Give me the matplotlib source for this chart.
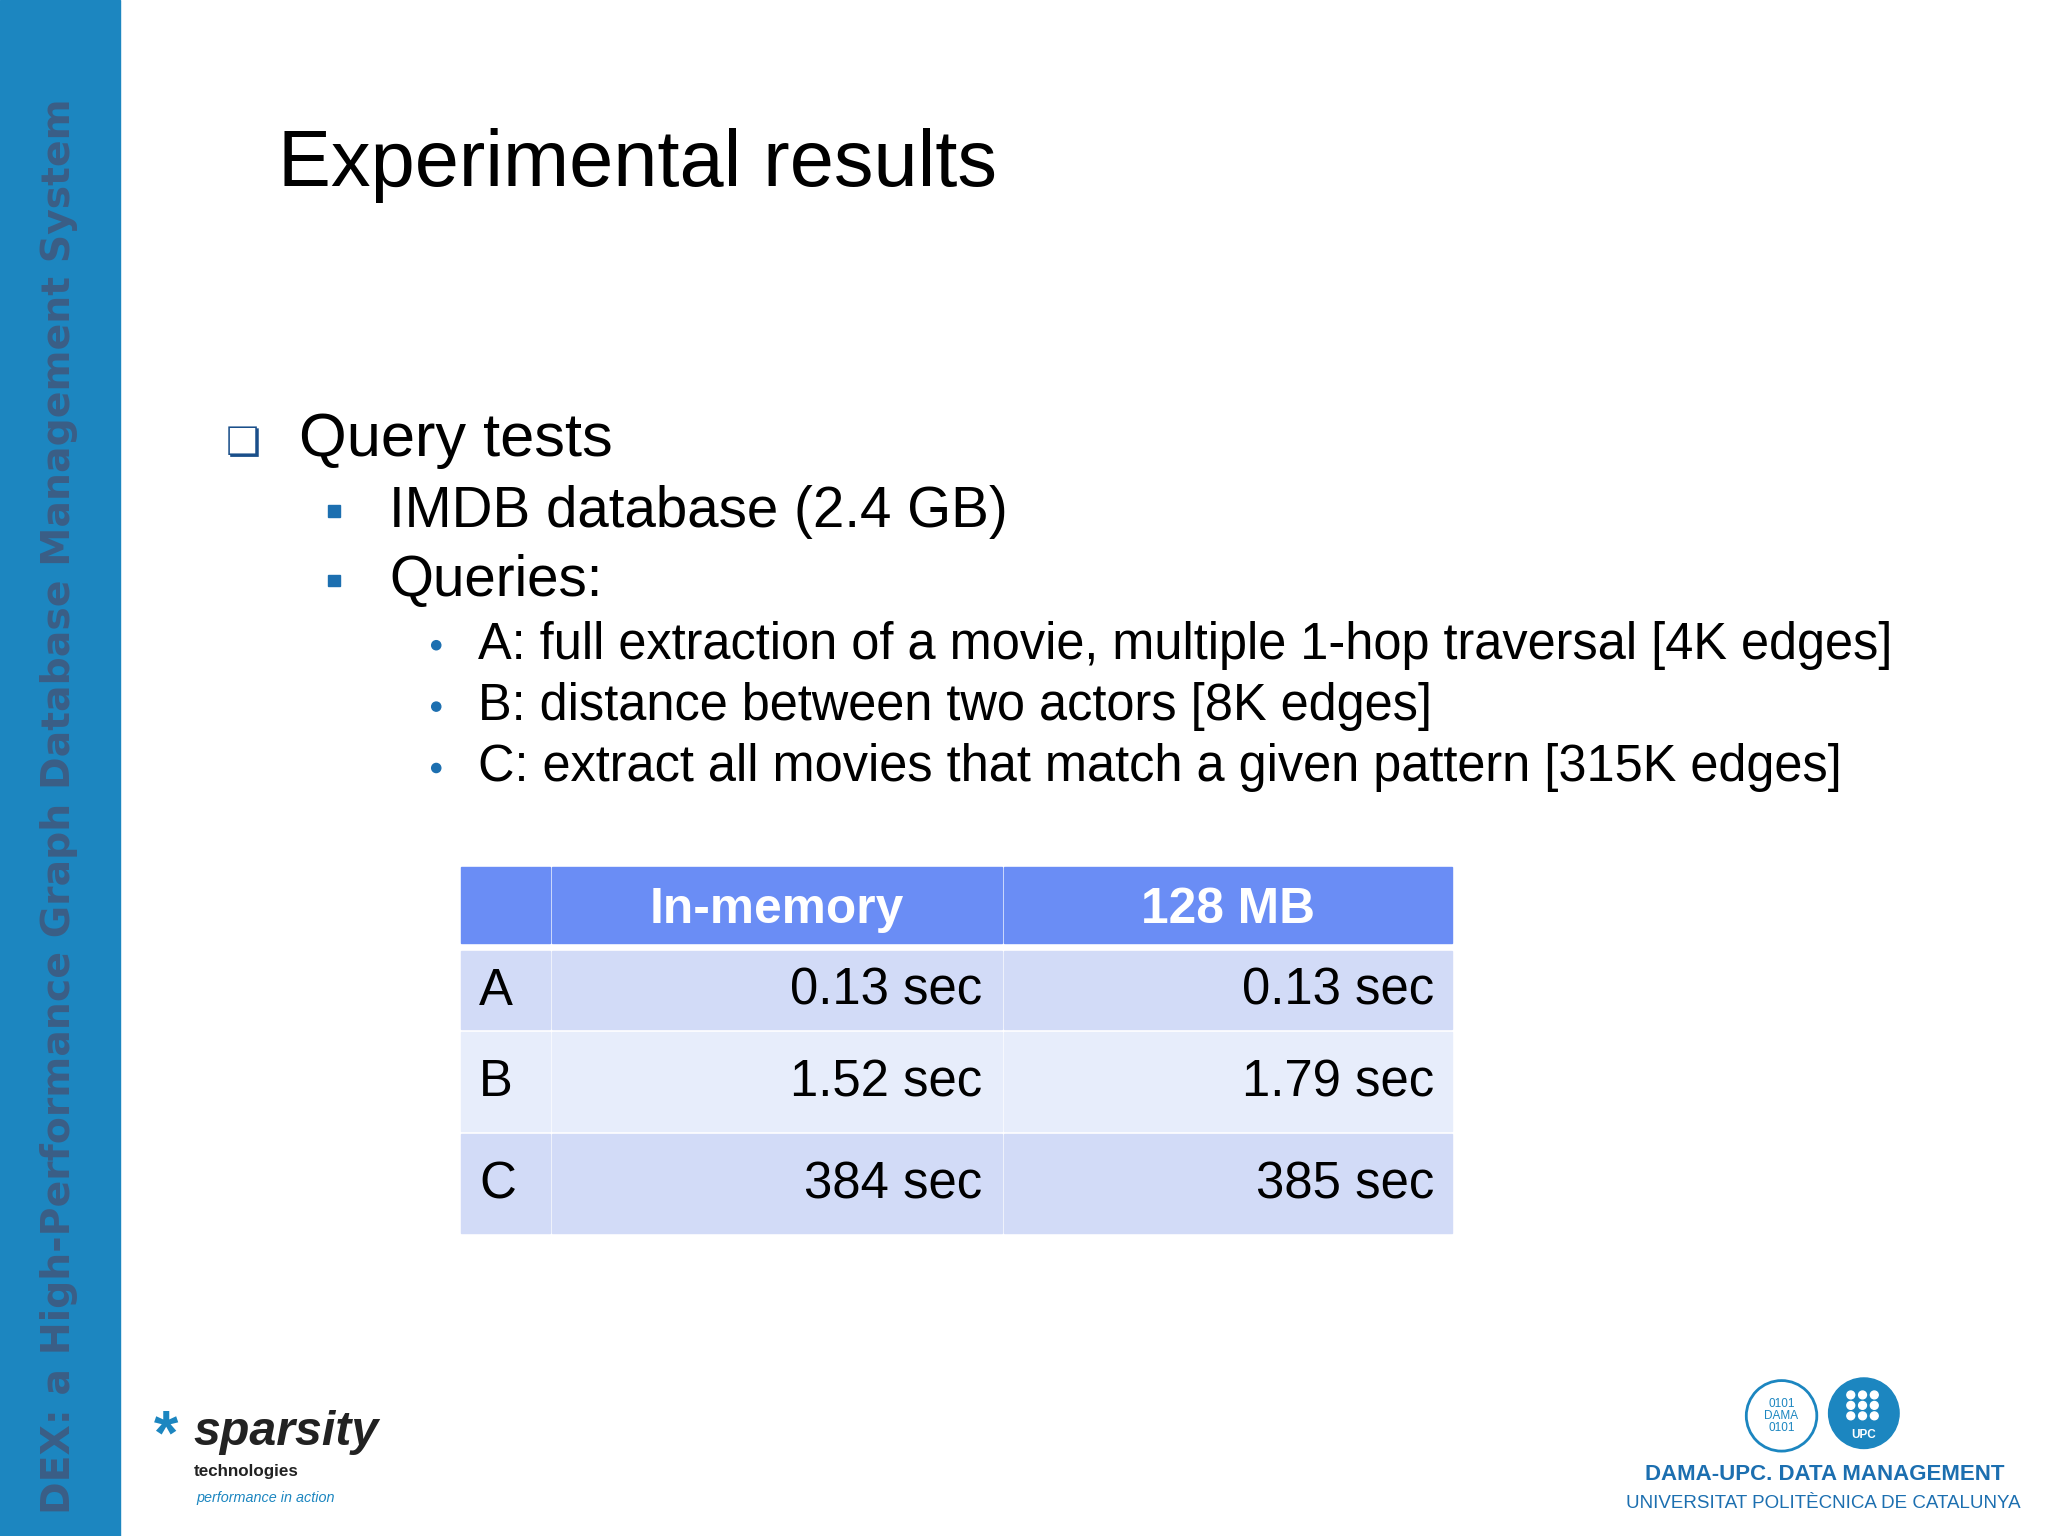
import matplotlib
matplotlib.use("Agg")
import matplotlib.pyplot as plt
from matplotlib.patches import Rectangle, Circle

plt.rcParams['font.family'] = ['Liberation Sans', 'DejaVu Sans']

title = "Experimental results"
side_text = "DEX: a High-Performance Graph Database Management System"
level1 = ["Query tests"]
level2 = ["IMDB database (2.4 GB)", "Queries:"]
level3 = ["A: full extraction of a movie, multiple 1-hop traversal [4K edges]",
          "B: distance between two actors [8K edges]",
          "C: extract all movies that match a given pattern [315K edges]"]
col_headers = ["", "In-memory", "128 MB"]
row_labels = ["A", "B", "C"]
in_memory = ["0.13 sec", "1.52 sec", "384 sec"]
mb128 = ["0.13 sec", "1.79 sec", "385 sec"]

W, H = 1568, 1176
fig = plt.figure(figsize=(20.48, 15.36), dpi=100)
ax = fig.add_axes([0, 0, 1, 1])
ax.set_xlim(0, W); ax.set_ylim(H, 0); ax.axis('off')
s = 1536 / 1176 / 100 * 72  # display px -> pt

# side bar
ax.add_patch(Rectangle((0, 0), 92, H, color='#1C86C0'))
ax.text(45, 617, side_text, rotation=90, ha='center', va='center', color='#3B5E86',
        fontsize=30.2 * s, fontweight='bold', family=['DejaVu Sans'])

ax.text(213, 127, title, ha='left', va='center', fontsize=60.8 * s, color='black')

# bullets
ax.text(186, 340, "\u274f", ha='center', va='center', fontsize=30 * s, color='#1a4f8a', family=['DejaVu Sans'])
ax.text(229, 337, level1[0], ha='left', va='center', fontsize=47 * s)
for i, t in enumerate(level2):
    y = 392 + i * 53
    ax.add_patch(Rectangle((251, y - 5), 9, 9, color='#1C6FB0'))
    ax.text(298, y, t, ha='left', va='center', fontsize=43.3 * s)
for i, t in enumerate(level3):
    y = 494 + i * 47
    ax.add_patch(Circle((334, y), 3.5, color='#1C6FB0'))
    ax.text(366, y, t, ha='left', va='center', fontsize=38.7 * s)

# table
xs = [(353, 421), (423, 767), (769, 1112)]
ys = [(664, 722), (728, 788), (790, 866), (868, 944)]
fills = ['#6A8DF5', '#D2DBF7', '#E7EDFB', '#D2DBF7']
for r, (y0, y1) in enumerate(ys):
    for c, (x0, x1) in enumerate(xs):
        ax.add_patch(Rectangle((x0, y0), x1 - x0, y1 - y0, color=fills[r]))
for c, (x0, x1) in enumerate(xs):
    ax.text((x0 + x1) / 2, 697, col_headers[c], ha='center', va='center', color='white',
            fontsize=38 * s, fontweight='bold')
for r in range(3):
    y0, y1 = ys[r + 1]
    yc = (y0 + y1) / 2 + 1
    ax.text(367, yc, row_labels[r], ha='left', va='center', fontsize=39 * s)
    ax.text(752, yc, in_memory[r], ha='right', va='center', fontsize=39 * s)
    ax.text(1098, yc, mb128[r], ha='right', va='center', fontsize=39 * s)

# sparsity logo
ax.text(118, 1100, "*", ha='left', va='center', fontsize=48 * s, color='#1C86C0', fontweight='bold')
ax.text(148, 1097, "sparsity", ha='left', va='center', fontsize=37 * s, fontweight='bold',
        style='italic', color='#222222')
ax.text(148, 1127, "technologies", ha='left', va='center', fontsize=13 * s, fontweight='bold', color='#222222')
ax.text(150, 1147, "performance in action", ha='left', va='center', fontsize=11 * s, style='italic', color='#1C86C0')

# DAMA-UPC logo
ax.add_patch(Circle((1364, 1084), 27, facecolor='white', edgecolor='#1C86C0', lw=2))
ax.text(1364, 1084, "0101\nDAMA\n0101", ha='center', va='center', fontsize=9 * s, color='#1C86C0', linespacing=1.0)
ax.add_patch(Circle((1427, 1082), 27, color='#1C86C0'))
for i in range(3):
    for j in range(3):
        ax.add_patch(Circle((1417 + j * 9, 1068 + i * 8), 3, color='white'))
ax.text(1427, 1099, "UPC", ha='center', va='center', fontsize=9 * s, color='white', fontweight='bold')
ax.text(1397, 1129, "DAMA-UPC. DATA MANAGEMENT", ha='center', va='center', fontsize=17 * s,
        fontweight='bold', color='#1C6FB0')
ax.text(1396, 1151, "UNIVERSITAT POLITÈCNICA DE CATALUNYA", ha='center', va='center', fontsize=14.4 * s,
        color='#1C6FB0')

fig.savefig("out.png", dpi=100, facecolor='white')
